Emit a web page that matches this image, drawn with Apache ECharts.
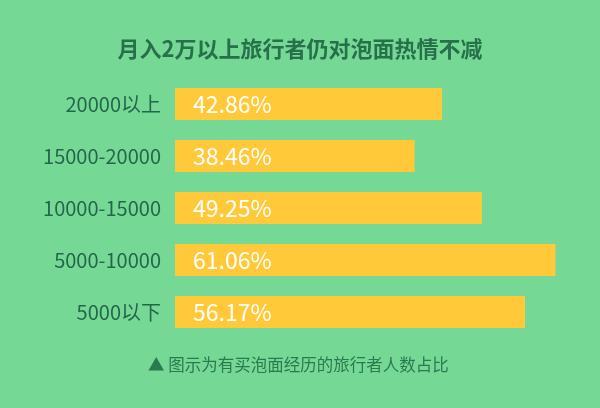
<!DOCTYPE html>
<html>
<head>
<meta charset="utf-8">
<script src="https://cdn.jsdelivr.net/npm/echarts@6/dist/echarts.min.js"></script>
<style>
  html, body { margin: 0; padding: 0; background: #76d895; }
  #main { width: 600px; height: 408px; }
</style>
</head>
<body>
<div id="main"></div>
<script>
// 收入区间
var categories = ['20000以上', '15000-20000', '10000-15000', '5000-10000', '5000以下'];
// 买过泡面的旅行者占比 (%)
var values = [42.86, 38.46, 49.25, 61.06, 56.17];

var myChart = echarts.init(document.getElementById('main'));

var option = {
    backgroundColor: '#76d895',
    title: {
        text: '月入2万以上旅行者仍对泡面热情不减',
        left: 'center',
        top: 33,
        textStyle: {
            color: '#26704a',
            fontSize: 22,
            fontWeight: 'bold',
            fontFamily: 'Noto Sans CJK SC'
        }
    },
    graphic: [{
        type: 'text',
        left: 148,
        top: 356,
        style: {
            text: '▲ 图示为有买泡面经历的旅行者人数占比',
            fill: '#2a7a50',
            fontSize: 16.5,
            fontFamily: 'Noto Sans CJK SC'
        }
    }],
    grid: {
        left: 175,
        right: 20,
        top: 78,
        bottom: 70
    },
    xAxis: {
        type: 'value',
        min: 0,
        max: 65,
        show: false
    },
    yAxis: {
        type: 'category',
        inverse: true,
        data: categories,
        axisLine: { show: false },
        axisTick: { show: false },
        axisLabel: {
            margin: 14,
            color: '#23674a',
            fontSize: 20,
            fontFamily: 'Noto Sans CJK SC'
        }
    },
    series: [{
        type: 'bar',
        data: values,
        barWidth: 32,
        itemStyle: { color: '#ffc93a' },
        label: {
            show: true,
            position: 'insideLeft',
            distance: 18,
            color: '#ffffff',
            fontSize: 23,
            fontFamily: 'Noto Sans CJK SC',
            formatter: function (p) { return p.value.toFixed(2) + '%'; }
        }
    }]
};

myChart.setOption(option);
</script>
</body>
</html>
